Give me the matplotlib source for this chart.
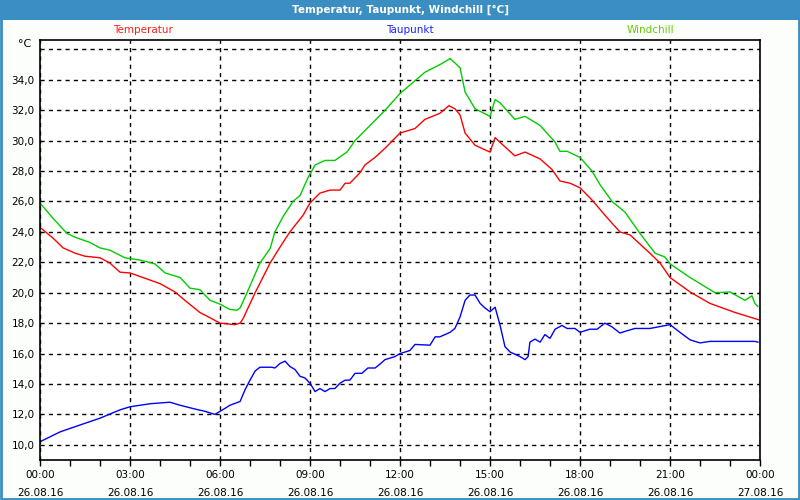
import numpy as np
import matplotlib.pyplot as plt
from matplotlib.patches import Rectangle

# Stunden ab 26.08.16 00:00, Werte in °C
temp_h = [0.0, 0.43, 0.77, 1.17, 1.5, 2.0, 2.33, 2.67, 3.0, 3.5, 4.0, 4.5, 4.83, 5.33,
          5.67, 6.0, 6.5, 6.67, 6.77, 7.17, 7.67, 8.0, 8.33, 8.57, 8.77, 9.0, 9.33, 9.67,
          10.0, 10.17, 10.33, 10.67, 10.83, 11.17, 11.5, 12.0, 12.5, 12.83, 13.33, 13.63,
          13.83, 14.0, 14.17, 14.5, 14.83, 15.0, 15.17, 15.33, 15.83, 16.17, 16.67, 17.07,
          17.33, 17.67, 18.0, 18.4, 18.83, 19.33, 19.67, 20.33, 20.67, 21.0, 21.67, 22.33,
          23.17, 23.83, 24.0]
temp = [24.3, 23.6, 22.95, 22.6, 22.4, 22.3, 21.95, 21.35, 21.3, 20.95, 20.6, 20.05, 19.5, 18.7,
        18.35, 18.0, 17.9, 18.0, 18.3, 20.0, 21.95, 23.0, 24.0, 24.6, 25.1, 25.9, 26.55, 26.75,
        26.75, 27.2, 27.2, 27.9, 28.4, 28.9, 29.5, 30.5, 30.8, 31.4, 31.8, 32.3,
        32.1, 31.7, 30.5, 29.7, 29.4, 29.25, 30.2, 29.9, 29.0, 29.25, 28.8, 28.1,
        27.35, 27.2, 26.9, 26.1, 25.1, 24.0, 23.8, 22.6, 21.95, 21.0, 20.05, 19.3,
        18.7, 18.3, 18.2]

tau_h = [0.0, 0.67, 1.33, 2.0, 2.67, 3.0, 3.67, 4.33, 4.67, 5.17, 5.5, 5.83, 6.17, 6.33,
         6.67, 6.83, 7.0, 7.17, 7.33, 7.73, 7.83, 8.0, 8.17, 8.33, 8.5, 8.67, 8.83, 9.0,
         9.17, 9.33, 9.5, 9.67, 9.83, 10.0, 10.17, 10.33, 10.5, 10.73, 10.93, 11.17, 11.33,
         11.5, 11.83, 12.0, 12.17, 12.33, 12.5, 13.0, 13.17, 13.33, 13.67, 13.83, 14.0,
         14.17, 14.33, 14.5, 14.67, 14.83, 15.0, 15.17, 15.33, 15.5, 15.67, 16.0, 16.17,
         16.27, 16.33, 16.5, 16.67, 16.83, 17.0, 17.17, 17.4, 17.57, 17.83, 18.0, 18.33,
         18.57, 18.83, 19.07, 19.33, 19.57, 19.83, 20.33, 21.0, 21.33, 21.67, 22.0, 22.33,
         23.17, 23.83, 23.93]
tau = [10.2, 10.85, 11.3, 11.75, 12.3, 12.5, 12.7, 12.8, 12.6, 12.35, 12.2, 12.0, 12.4, 12.6,
       12.85, 13.6, 14.25, 14.85, 15.1, 15.1, 15.05, 15.35, 15.5, 15.15, 14.95, 14.5, 14.4, 14.05,
       13.5, 13.7, 13.5, 13.7, 13.7, 14.05, 14.25, 14.25, 14.7, 14.7, 15.05, 15.05, 15.3,
       15.6, 15.8, 16.0, 16.1, 16.2, 16.6, 16.55, 17.1, 17.1, 17.4, 17.65, 18.4,
       19.5, 19.85, 19.85, 19.3, 19.0, 18.75, 19.05, 17.9, 16.45, 16.1, 15.8, 15.6,
       15.8, 16.75, 16.95, 16.75, 17.25, 17.0, 17.6, 17.85, 17.65, 17.65, 17.4, 17.6,
       17.6, 18.0, 17.75, 17.35, 17.5, 17.65, 17.65, 17.9, 17.4, 16.9, 16.7, 16.8,
       16.8, 16.8, 16.75]

wind_h = [0.0, 0.43, 0.9, 1.17, 1.67, 2.0, 2.33, 2.83, 3.33, 3.83, 4.17, 4.67, 5.0, 5.33,
          5.67, 6.0, 6.33, 6.57, 6.67, 6.9, 7.33, 7.67, 7.83, 8.1, 8.43, 8.67, 8.93, 9.17,
          9.5, 9.83, 10.23, 10.5, 11.0, 11.5, 12.0, 12.83, 13.33, 13.67, 14.0, 14.17, 14.5,
          15.0, 15.17, 15.33, 15.83, 16.17, 16.67, 17.17, 17.33, 17.57, 18.0, 18.4, 18.67,
          19.07, 19.5, 20.0, 20.5, 20.83, 21.0, 21.67, 22.5, 23.0, 23.5, 23.73, 23.83, 23.93]
wind = [25.9, 24.9, 23.9, 23.65, 23.3, 22.95, 22.8, 22.3, 22.15, 21.9, 21.3, 21.0, 20.3, 20.2,
        19.5, 19.25, 18.9, 18.85, 19.0, 20.0, 21.95, 22.9, 24.0, 25.0, 26.0, 26.4, 27.55, 28.4,
        28.7, 28.7, 29.25, 30.0, 31.0, 32.0, 33.1, 34.5, 35.0, 35.4, 34.8, 33.2, 32.1,
        31.6, 32.7, 32.5, 31.4, 31.6, 31.0, 29.9, 29.3, 29.3, 28.9, 28.0, 27.1,
        26.0, 25.3, 23.9, 22.6, 22.35, 21.9, 21.0, 20.0, 20.05, 19.5, 19.8, 19.3, 19.1]

x_ticks = [0, 3, 6, 9, 12, 15, 18, 21, 24]
x_labels = ['00:00\n26.08.16', '03:00\n26.08.16', '06:00\n26.08.16', '09:00\n26.08.16',
            '12:00\n26.08.16', '15:00\n26.08.16', '18:00\n26.08.16', '21:00\n26.08.16',
            '00:00\n27.08.16']
y_ticks = np.arange(10, 37, 2)

blau = '#3b8ec2'
fig = plt.figure(figsize=(8, 5), dpi=100, facecolor='#fcfefc')
ax = fig.add_axes([40 / 800, 1 - 460 / 500, 720 / 800, 420 / 500])

ax.plot(temp_h, temp, color='#ff0000', lw=1)
ax.plot(tau_h, tau, color='#0000ff', lw=1)
ax.plot(wind_h, wind, color='#00cc00', lw=1)

ax.set_xlim(0, 24)
ax.set_ylim(9.0, 36.62)
ax.set_xticks(x_ticks)
ax.set_xticklabels(x_labels, fontsize=7.5, linespacing=2.0)
ax.set_xticks(range(0, 25), minor=True)
ax.set_yticks(y_ticks)
ax.set_yticklabels([f'{v:.1f}'.replace('.', ',') if v < 36 else '' for v in y_ticks], fontsize=7.5)
ax.tick_params(axis='both', which='both', direction='out', length=4, width=1, pad=3)
ax.tick_params(axis='y', length=0, pad=4)
ax.grid(True, which='major', color='black', linestyle=(0, (3, 3)), lw=1)
for s in ax.spines.values():
    s.set_linewidth(1.2)
ax.text(-0.3, 36.35, '°C', ha='right', va='center', fontsize=8)

fig.text(143 / 800, 1 - 30 / 500, 'Temperatur', color='#ff2020', ha='center', va='center', fontsize=7.5)
fig.text(410 / 800, 1 - 30 / 500, 'Taupunkt', color='#2020ff', ha='center', va='center', fontsize=7.5)
fig.text(650 / 800, 1 - 30 / 500, 'Windchill', color='#66cc00', ha='center', va='center', fontsize=7.5)

# Titelleiste und Rahmen
fig.patches.append(Rectangle((0, 1 - 20 / 500), 1, 20 / 500, transform=fig.transFigure,
                             facecolor=blau, edgecolor='none', zorder=0))
fig.patches.append(Rectangle((0.001, 0.002), 0.998, 0.996, transform=fig.transFigure,
                             facecolor='none', edgecolor=blau, lw=2, zorder=0))
fig.text(0.5, 1 - 10 / 500, 'Temperatur, Taupunkt, Windchill [°C]', color='white',
         ha='center', va='center', fontsize=7.5, fontweight='bold')

plt.savefig('out.png', dpi=100, facecolor=fig.get_facecolor())
